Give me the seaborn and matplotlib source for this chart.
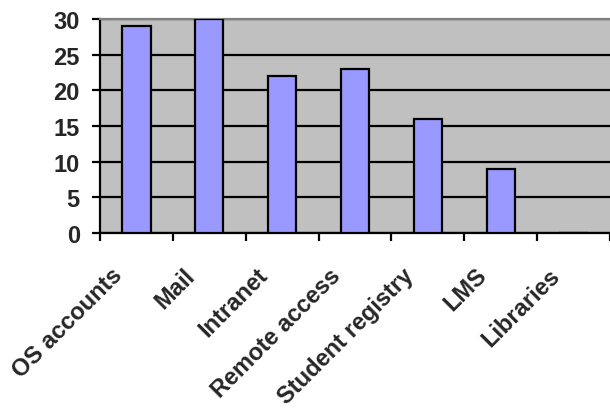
import matplotlib
matplotlib.use("Agg")
import matplotlib.pyplot as plt
import matplotlib.transforms as mtransforms
import seaborn as sns
import pandas as pd

categories = ["OS accounts", "Mail", "Intranet", "Remote access",
              "Student registry", "LMS", "Libraries"]
values = [29, 30, 22, 23, 16, 9, 0]
y_ticks = [0, 5, 10, 15, 20, 25, 30]

sns.set_theme(style="white")
plt.rcParams['font.family'] = ['Liberation Sans', 'DejaVu Sans']

df = pd.DataFrame({"cat": categories, "val": values})

fig = plt.figure(figsize=(6.1, 4.1), dpi=100)
ax = fig.add_axes([100/610, 1 - 234/410, 510/610, 214/410])
ax.set_facecolor("#C0C0C0")

sns.barplot(data=df, x="cat", y="val", ax=ax, color="#9999FF", saturation=1,
            width=0.39, edgecolor="black", linewidth=1.6, zorder=3)

ax.set_ylim(0, 30)
ax.set_xlim(-0.5, len(categories) - 0.5)
ax.set_yticks(y_ticks)
ax.set_yticklabels([str(t) for t in y_ticks], fontsize=17, fontweight="bold")
ax.yaxis.grid(True, color="black", linewidth=1.6, zorder=1)
ax.set_axisbelow(True)

bounds = [i - 0.5 for i in range(len(categories) + 1)]
ax.set_xticks(bounds)
ax.set_xticklabels([""] * len(bounds))
ax.tick_params(axis="x", direction="out", length=6, width=1.6, color="black", bottom=True)
ax.tick_params(axis="y", direction="out", length=6, width=1.6, color="black", left=True, pad=8.5)

for s in ["left", "bottom"]:
    ax.spines[s].set_color("black")
    ax.spines[s].set_linewidth(1.6)
ax.spines["top"].set_color("#808080")
ax.spines["top"].set_linewidth(1.6)
ax.spines["right"].set_visible(False)
ax.set_xlabel("")
ax.set_ylabel("")

trans_base = ax.get_xaxis_transform()
off = mtransforms.ScaledTranslation(-13 / 100, -43 / 100, fig.dpi_scale_trans)
for i, lab in enumerate(categories):
    ax.text(i, 0, lab, transform=trans_base + off, rotation=45,
            rotation_mode="anchor", ha="right", va="baseline",
            fontsize=17, fontweight="bold", clip_on=False)

fig.savefig("out.png", dpi=100)
